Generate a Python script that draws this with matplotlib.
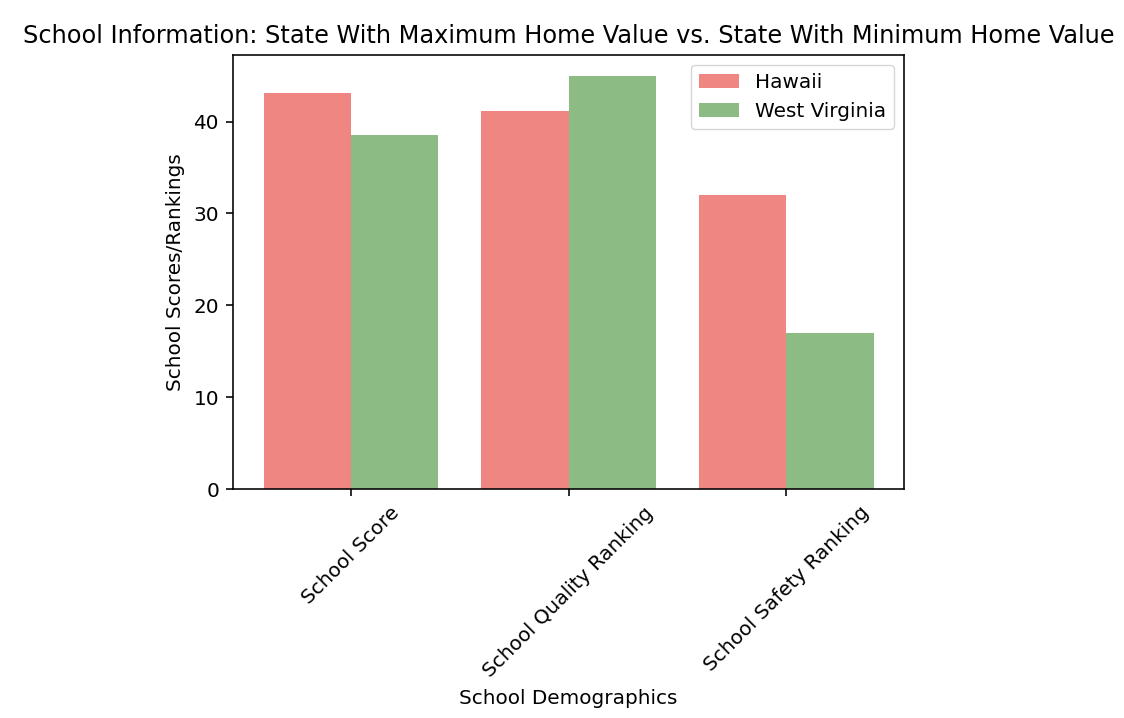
import matplotlib
matplotlib.use("Agg")
import matplotlib.pyplot as plt
import numpy as np

categories = ["School Score", "School Quality Ranking", "School Safety Ranking"]
hawaii = [43.1, 41.1, 32.0]
west_virginia = [38.5, 45.0, 17.0]
series_names = ["Hawaii", "West Virginia"]

s = 1.44
fig = plt.figure(figsize=(11.24, 7.18), dpi=100)
ax = fig.add_axes([0.2073, 0.3189, 0.5970, 0.6045])
x = np.arange(len(categories))
w = 0.4
ax.bar(x - w/2, hawaii, w, color="#F08682", label=series_names[0])
ax.bar(x + w/2, west_virginia, w, color="#8CBB84", label=series_names[1])
ax.set_xticks(x)
ax.set_xticklabels(categories, rotation=45, fontsize=10*s)
ax.tick_params(axis="y", labelsize=10*s)
ax.tick_params(length=3.5*s, width=0.8*s, pad=3.5*s)
for sp in ax.spines.values():
    sp.set_linewidth(0.8*s)
ax.set_yticks([0, 10, 20, 30, 40])
ax.set_xlabel("School Demographics", fontsize=10*s, labelpad=4*s)
ax.set_ylabel("School Scores/Rankings", fontsize=10*s, labelpad=4*s)
ax.set_title("School Information: State With Maximum Home Value vs. State With Minimum Home Value",
             fontsize=12*s, pad=6*s)
ax.legend(fontsize=10*s, borderpad=0.4, handlelength=2.0, borderaxespad=0.5)
fig.savefig("out.png", dpi=100)
